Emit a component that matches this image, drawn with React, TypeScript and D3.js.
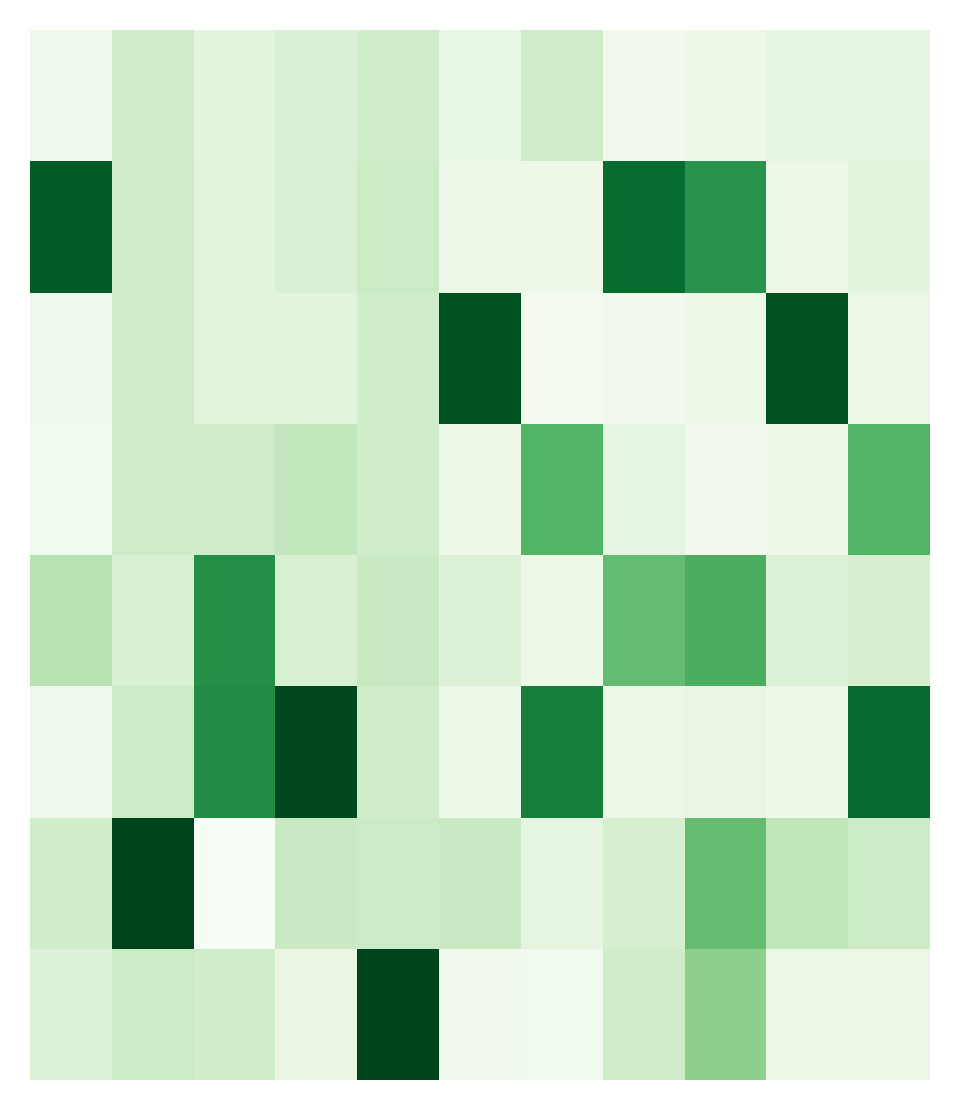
import React from "react";
import * as d3 from "d3";

const columns = ["C1","C2","C3","C4","C5","C6","C7","C8","C9","C10","C11"];
const rows = ["R1","R2","R3","R4","R5","R6","R7","R8"];

const row1 = [0.06, 0.22, 0.12, 0.17, 0.21, 0.09, 0.21, 0.05, 0.07, 0.11, 0.11];
const row2 = [0.93, 0.22, 0.13, 0.17, 0.23, 0.08, 0.07, 0.87, 0.72, 0.07, 0.12];
const row3 = [0.06, 0.22, 0.13, 0.13, 0.21, 0.96, 0.03, 0.05, 0.08, 0.96, 0.08];
const row4 = [0.04, 0.22, 0.22, 0.26, 0.21, 0.08, 0.58, 0.11, 0.05, 0.07, 0.58];
const row5 = [0.30, 0.18, 0.74, 0.18, 0.24, 0.16, 0.07, 0.54, 0.61, 0.16, 0.19];
const row6 = [0.06, 0.23, 0.75, 0.99, 0.21, 0.08, 0.80, 0.08, 0.10, 0.07, 0.88];
const row7 = [0.21, 1.00, 0.00, 0.24, 0.23, 0.24, 0.11, 0.19, 0.54, 0.27, 0.23];
const row8 = [0.16, 0.23, 0.21, 0.10, 1.00, 0.05, 0.04, 0.21, 0.43, 0.08, 0.08];

const values = [row1, row2, row3, row4, row5, row6, row7, row8];

const W = 960;
const H = 1110;
const margin = { top: 30, right: 30, bottom: 30, left: 30 };

export default function App() {
  const x = d3.scaleBand<string>().domain(columns).range([margin.left, W - margin.right]).padding(0);
  const y = d3.scaleBand<string>().domain(rows).range([margin.top, H - margin.bottom]).padding(0);
  const color = d3.scaleSequential(d3.interpolateGreens).domain([0, 1]);

  return (
    <svg width={W} height={H} style={{ position: "absolute", left: 0, top: 0, display: "block" }}>
      <rect x={0} y={0} width={W} height={H} fill="#ffffff" />
      {values.map((r, i) =>
        r.map((v, j) => (
          <rect
            key={`${i}-${j}`}
            x={x(columns[j])}
            y={y(rows[i])}
            width={x.bandwidth()}
            height={y.bandwidth()}
            fill={color(v)}
            shapeRendering="crispEdges"
          />
        ))
      )}
    </svg>
  );
}
